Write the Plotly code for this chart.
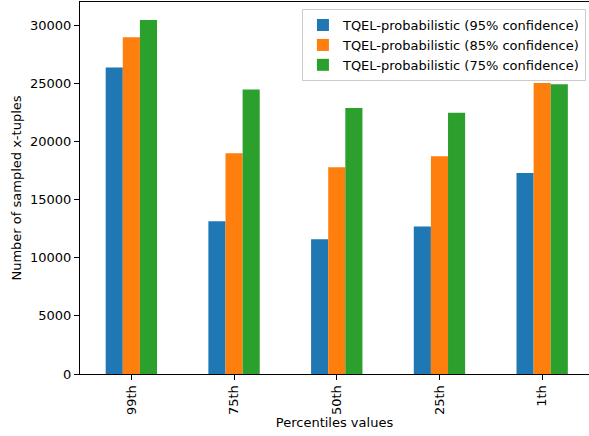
import plotly.graph_objects as go

percentiles = ["99th", "75th", "50th", "25th", "1th"]
conf_95 = [26400, 13150, 11600, 12700, 17300]
conf_85 = [29000, 19000, 17800, 18750, 25050]
conf_75 = [30470, 24500, 22900, 22500, 24950]

series = [
    ("TQEL-probabilistic (95% confidence)", conf_95, "#1f77b4"),
    ("TQEL-probabilistic (85% confidence)", conf_85, "#ff7f0e"),
    ("TQEL-probabilistic (75% confidence)", conf_75, "#2ca02c"),
]

fig = go.Figure()
for name, vals, color in series:
    fig.add_trace(go.Bar(
        x=list(range(len(percentiles))), y=vals, name=name,
        marker=dict(color=color, line=dict(width=0)),
    ))

font = dict(family="DejaVu Sans", size=13, color="black")

fig.update_layout(
    width=589, height=436,
    margin=dict(l=80, r=0, t=2, b=62),
    paper_bgcolor="white", plot_bgcolor="white",
    barmode="group", bargap=0.5, bargroupgap=0,
    font=font,
    showlegend=True,
    legend=dict(
        x=0.994, y=0.981, xanchor="right", yanchor="top",
        bgcolor="rgba(255,255,255,0.8)", bordercolor="#cccccc", borderwidth=1,
        font=font,
        tracegroupgap=0, itemsizing="constant",
    ),
    xaxis=dict(
        range=[-0.5, 4.456],
        tickmode="array", tickvals=list(range(len(percentiles))), ticktext=percentiles,
        tickangle=-90,
        showline=True, linecolor="black", linewidth=1, mirror=True,
        ticks="outside", ticklen=5, tickcolor="black",
        showgrid=False, zeroline=False,
        title=dict(text="Percentiles values", standoff=3, font=font),
    ),
    yaxis=dict(
        range=[0, 32030],
        tickmode="linear", tick0=0, dtick=5000, tickformat="d",
        showline=True, linecolor="black", linewidth=1,
        ticks="outside", ticklen=5, tickcolor="black",
        showgrid=False, zeroline=False,
        title=dict(text="Number of sampled x-tuples", standoff=5, font=font),
    ),
)

fig.write_html("out.html")
